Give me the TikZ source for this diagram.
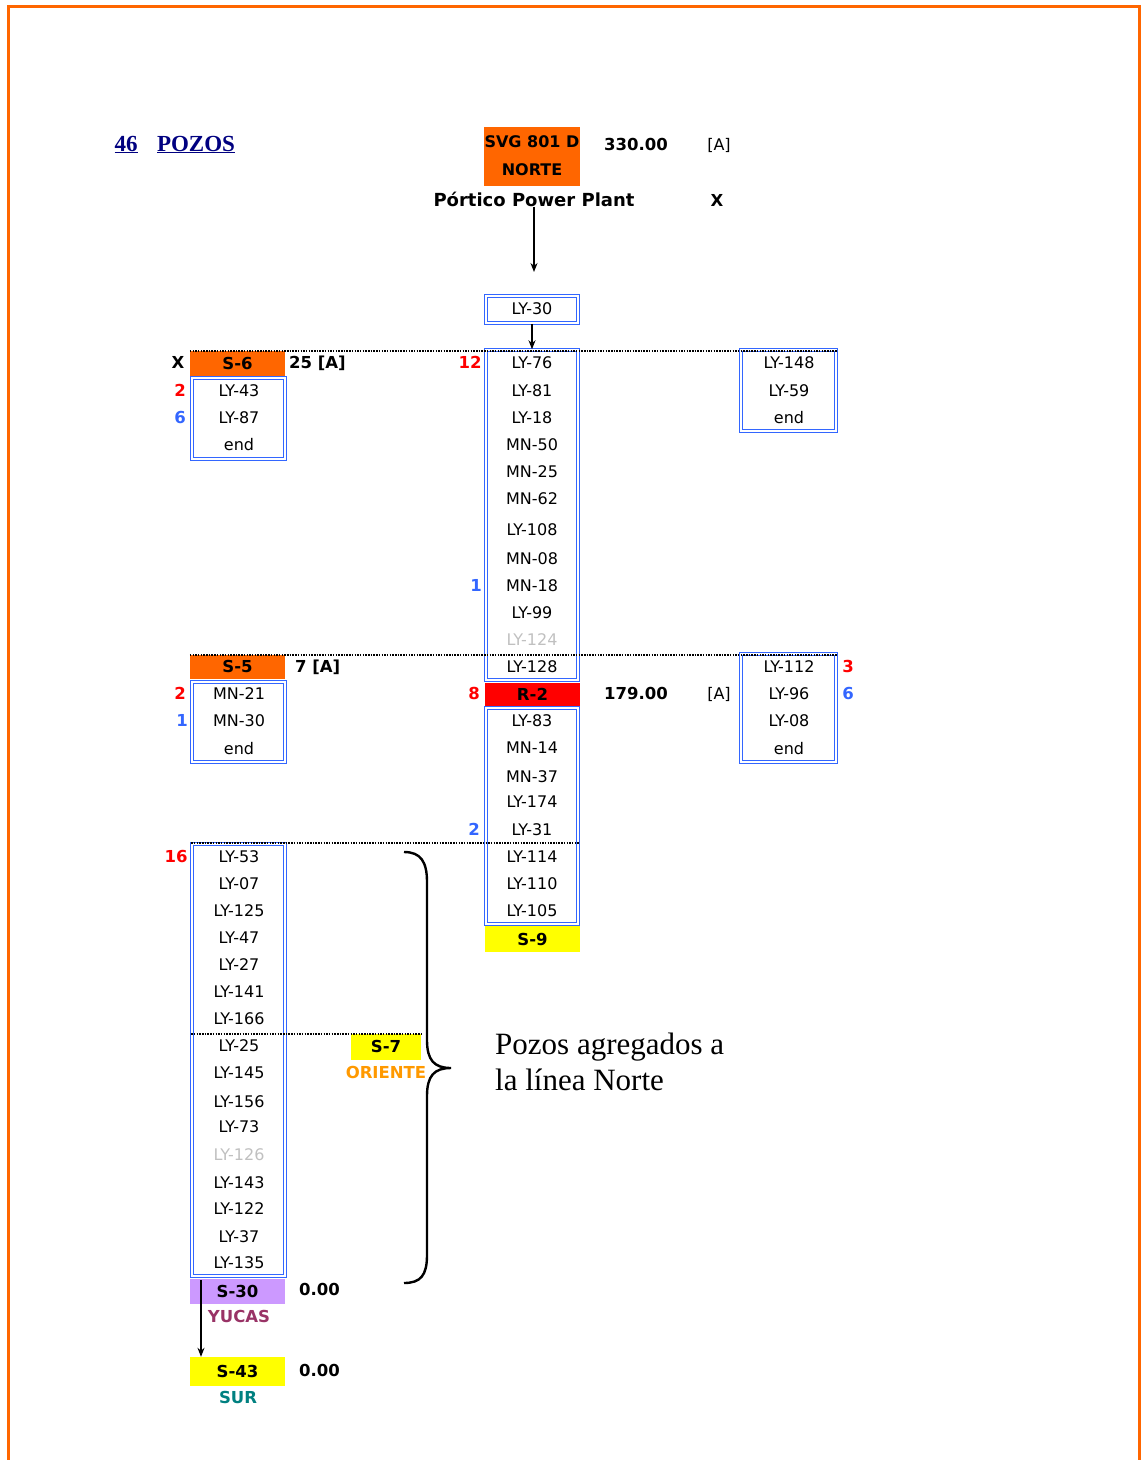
\documentclass[tikz,border=0pt]{standalone}
\usepackage{fontspec}
\setmainfont{DejaVu Sans}
\newfontfamily\notefont{Liberation Serif}
\usepackage{tikz}
\usetikzlibrary{arrows.meta, positioning}
\definecolor{wellblue}{RGB}{51,102,255}
\definecolor{numred}{RGB}{255,0,0}
\definecolor{numblue}{RGB}{51,102,255}
\definecolor{stnorange}{RGB}{255,102,0}
\definecolor{stnyellow}{RGB}{255,255,0}
\definecolor{stnpurple}{RGB}{204,153,255}
\definecolor{gone}{RGB}{192,192,192}
\definecolor{oriente}{RGB}{255,153,0}
\definecolor{yucas}{RGB}{153,51,102}
\definecolor{sur}{RGB}{0,128,128}
\definecolor{navy}{RGB}{0,0,128}
\newcommand{\itemfont}{\fontsize{16}{19}\selectfont}
\newcommand{\headfont}{\fontsize{16.5}{19}\selectfont\bfseries}

\begin{document}
\begin{tikzpicture}[x=1pt, y=-1pt,
        wellbox/.style={draw=wellblue, double=white, double distance=1.4pt, line width=1.5pt, inner sep=0pt, minimum width=93pt},
        header/.style={inner sep=0pt, minimum width=95pt, minimum height=25pt, font=\headfont, text height=11.5pt, text depth=0pt},
        item/.style={inner sep=0pt, font=\itemfont, text height=11.5pt, text depth=0pt},
        tag/.style={inner sep=0pt, font=\headfont, text height=11.5pt, text depth=0pt},
        plain/.style={item},
        rednum/.style={tag, text=numred},
        bluenum/.style={tag, text=numblue},
        bus/.style={dash pattern=on 1.5pt off 1.2pt, line width=1.6pt},
        arrow/.style={-{Stealth[length=9pt, width=7pt]}, line width=1.3pt}
    ]
        \useasboundingbox (0,0) rectangle (1144,1460);
        \draw[stnorange, line width=3pt] (8,6) rectangle (1139,1475);

        % Title
        \node[anchor=base, inner sep=0pt, text=navy, font=\notefont\fontsize{23}{26}\selectfont\bfseries] (count) at (126,151) {\underline{46}};
        \node[anchor=base, inner sep=0pt, text=navy, font=\notefont\fontsize{23}{26}\selectfont\bfseries] (pozos) at (196,151) {\underline{POZOS}};

        % Source
        \node[fill=stnorange, minimum width=96pt, minimum height=59pt, inner sep=0pt, align=center, font=\fontsize{16}{28}\selectfont\bfseries] (norte) at (532,156) {SVG 801 D\\NORTE};
        \node[tag] (p330) at (636,145) {330.00};
        \node[plain] (a330) at (719,145) {[A]};
        \node[tag, font=\fontsize{18}{20}\selectfont\bfseries] (portico) at (534,201) {Pórtico Power Plant};
        \node[tag] (xportico) at (717,201) {X};
        \coordinate (feed) at (534,272);

        \node[wellbox, minimum width=92pt, minimum height=27pt] (ly30box) at (532,309.5) {};
        \node[item] (ly30) at (532,309) {LY-30};

        % Boxes
        \node[header, fill=stnorange] (s6) at (237.5,363.5) {S-6};
        \node[wellbox, minimum height=81pt] (s6box) at (238.5,418.5) {};
        \node[wellbox, minimum width=92pt, minimum height=330pt] (col1) at (532,515) {};
        \node[wellbox, minimum width=95pt, minimum height=81pt] (rtop) at (788.5,390.5) {};
        \node[header, fill=stnorange, minimum height=24pt] (s5) at (237.5,667) {S-5};
        \node[wellbox, minimum height=80pt] (s5box) at (238.5,722) {};
        \node[header, fill=numred, minimum height=23pt] (r2) at (532.5,694.5) {R-2};
        \node[fill=stnyellow, minimum width=95pt, minimum height=30pt, inner sep=0pt] (s9back) at (532.5,937) {};
        \node[header, fill=stnyellow, minimum height=25pt] (s9) at (532.5,939.5) {S-9};
        \node[wellbox, minimum width=92pt, minimum height=216pt] (col2) at (532,816) {};
        \node[wellbox, minimum width=95pt, minimum height=108pt] (rbot) at (788.5,708) {};
        \node[wellbox, minimum height=432pt] (col3) at (238.5,1060) {};
        \node[header, fill=stnyellow, minimum width=70pt, minimum height=26pt] (s7) at (386,1047) {S-7};
        \node[header, fill=stnpurple] (s30) at (237.5,1291.5) {S-30};
        \node[header, fill=stnyellow, minimum height=29pt] (s43) at (237.5,1371.5) {S-43};

        % Wells
        \node[item] (ly43) at (239,391) {LY-43};
        \node[item] (ly87) at (239,418) {LY-87};
        \node[item] (end1) at (239,445) {end};

        \node[item] (ly76) at (532,363) {LY-76};
        \node[item] (ly81) at (532,391) {LY-81};
        \node[item] (ly18) at (532,418) {LY-18};
        \node[item] (mn50) at (532,445) {MN-50};
        \node[item] (mn25) at (532,472) {MN-25};
        \node[item] (mn62) at (532,499) {MN-62};
        \node[item] (ly108) at (532,530) {LY-108};
        \node[item] (mn08) at (532,559) {MN-08};
        \node[item] (mn18) at (532,586) {MN-18};
        \node[item] (ly99) at (532,613) {LY-99};
        \node[item, text=gone] (ly124) at (532,640) {LY-124};
        \node[item] (ly128) at (532,667) {LY-128};

        \node[item] (ly148) at (789,363) {LY-148};
        \node[item] (ly59) at (789,391) {LY-59};
        \node[item] (end2) at (789,418) {end};

        \node[item] (mn21) at (239,694) {MN-21};
        \node[item] (mn30) at (239,721) {MN-30};
        \node[item] (end3) at (239,749) {end};

        \node[item] (ly83) at (532,721) {LY-83};
        \node[item] (mn14) at (532,748) {MN-14};
        \node[item] (mn37) at (532,777) {MN-37};
        \node[item] (ly174) at (532,802) {LY-174};
        \node[item] (ly31) at (532,830) {LY-31};
        \node[item] (ly114) at (532,857) {LY-114};
        \node[item] (ly110) at (532,884) {LY-110};
        \node[item] (ly105) at (532,911) {LY-105};

        \node[item] (ly112) at (789,667) {LY-112};
        \node[item] (ly96) at (789,694) {LY-96};
        \node[item] (ly08) at (789,721) {LY-08};
        \node[item] (end4) at (789,749) {end};

        \node[item] (ly53) at (239,857) {LY-53};
        \node[item] (ly07) at (239,884) {LY-07};
        \node[item] (ly125) at (239,911) {LY-125};
        \node[item] (ly47) at (239,938) {LY-47};
        \node[item] (ly27) at (239,965) {LY-27};
        \node[item] (ly141) at (239,992) {LY-141};
        \node[item] (ly166) at (239,1019) {LY-166};
        \node[item] (ly25) at (239,1046) {LY-25};
        \node[item] (ly145) at (239,1073) {LY-145};
        \node[item] (ly156) at (239,1102) {LY-156};
        \node[item] (ly73) at (239,1127) {LY-73};
        \node[item, text=gone] (ly126) at (239,1155) {LY-126};
        \node[item] (ly143) at (239,1183) {LY-143};
        \node[item] (ly122) at (239,1209) {LY-122};
        \node[item] (ly37) at (239,1237) {LY-37};
        \node[item] (ly135) at (239,1263) {LY-135};

        % Counts and values
        \node[tag] (xs6) at (178,363) {X};
        \node[tag, anchor=west] (a25) at (289,363) {25 [A]};
        \node[rednum] (n2a) at (180,391) {2};
        \node[bluenum] (n6a) at (180,418) {6};
        \node[rednum] (n12) at (470,363) {12};
        \node[bluenum] (n1a) at (476,586) {1};
        \node[tag, anchor=west] (a7) at (295,667) {7 [A]};
        \node[rednum] (n2b) at (180,694) {2};
        \node[bluenum] (n1b) at (182,721) {1};
        \node[rednum] (n8) at (474,694) {8};
        \node[tag] (p179) at (636,694) {179.00};
        \node[plain] (a179) at (719,694) {[A]};
        \node[rednum] (n3) at (848,667) {3};
        \node[bluenum] (n6b) at (848,694) {6};
        \node[bluenum] (n2c) at (474,830) {2};
        \node[rednum] (n16) at (176,857) {16};
        \node[tag, text=oriente] (oriente) at (386,1073) {ORIENTE};
        \node[tag, anchor=west] (p30) at (299,1290) {0.00};
        \node[tag, text=yucas] (yucas) at (239,1317) {YUCAS};
        \node[tag, anchor=west] (p43) at (299,1371) {0.00};
        \node[tag, text=sur] (sur) at (238,1398) {SUR};

        \node[anchor=north west, inner sep=0pt, align=left, font=\notefont\fontsize{31}{36}\selectfont] (note) at (495,1033) {Pozos agregados a\\la línea Norte};

        % Bus lines
        \draw[bus] (s6.north west) -- (s6.north west -| rtop.north east);
        \draw[bus] (s5.north west) -- (s5.north west -| rbot.north east);
        \draw[bus] (col3.north west) -- (col3.north west -| col2.east);
        \draw[bus] (col3.west |- s7.north) -- (s7.north east);

        % Brace
        \coordinate (bracetop) at (404,852);
        \coordinate (bracebot) at (404,1283);
        \draw[line width=2.4pt] (bracetop) .. controls (421,852) and (427,862) .. (427,882) -- (427,1040)
            .. controls (427,1060) and (434,1068) .. (451,1068)
            .. controls (434,1068) and (427,1076) .. (427,1096) -- (427,1255)
            .. controls (427,1275) and (421,1283) .. (bracebot);

        % Arrows
        \draw[arrow] (portico.south) -- (feed);
        \draw[arrow] (ly30box.south) -- (col1.north);
        \coordinate (drop) at (201,1280);
        \draw[arrow] (drop) -- (drop |- s43.north);
    \end{tikzpicture}
\end{document}
